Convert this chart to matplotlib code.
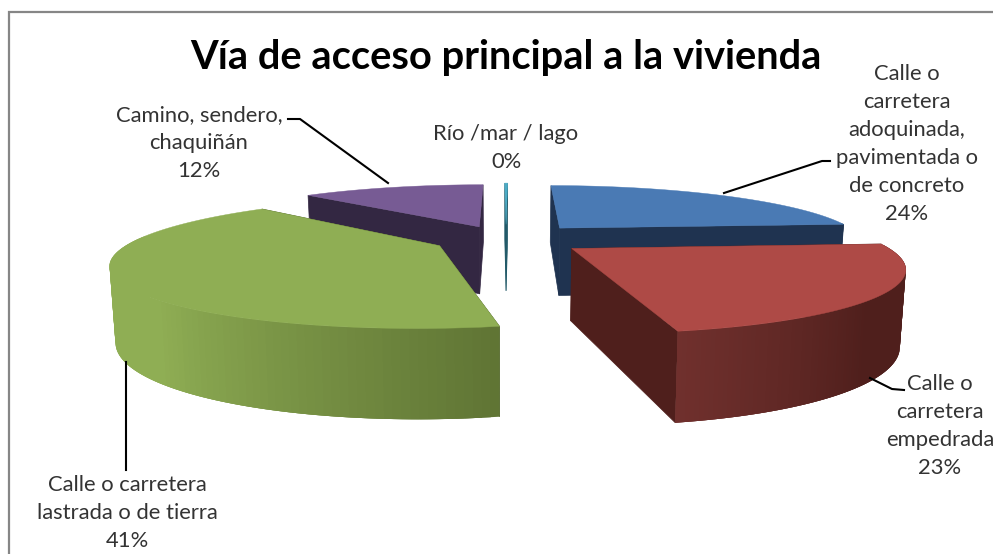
import numpy as np
import matplotlib
matplotlib.use('Agg')
import matplotlib.pyplot as plt
from matplotlib.colors import to_rgb

plt.rcParams['font.family'] = ['Lato', 'DejaVu Sans']

# values in chart order, clockwise from north
names = ['azul', 'rojo', 'verde', 'morado', 'rio']
values = [23.7, 23.0, 40.6, 12.4, 0.2]
tops = ['#4a7ab4', '#ae4a46', '#8fae54', '#775b94', '#4bacc6']
walls = ['#1f3350', '#4f1f1c', '#4d5f2a', '#332742', '#215968']
rim_near = ['#1f3350', '#70302d', '#5f7434', '#332742', '#215968']
rim_far = ['#1f3350', '#4f1f1c', '#8fae54', '#332742', '#215968']
explode = [0.27, 0.26, 0.24, 0.24, 0.27]
draw_order = [3, 4, 0, 2, 1]

labels = ['Calle o\ncarretera\nadoquinada,\npavimentada o\nde concreto\n24%',
          'Calle o\ncarretera\nempedrada\n23%',
          'Calle o carretera\nlastrada o de tierra\n41%',
          'Camino, sendero,\nchaquiñán\n12%',
          'Río /mar / lago\n0%']
label_xy = [(907, 144), (940, 426), (127, 513), (199, 143), (506, 148)]
leaders = [[(724, 193), (822, 161), (830, 161)],
           [(870, 378), (892, 389), (904, 390)],
           [(126, 362), (126, 470)],
           [(288, 119), (300, 119), (388, 183)]]

# perspective of the pie, in pixels
cx, cy = 506, 239
Rx, Ry = 305, 58
persp = 0.25
depth = 70
bottom_shrink = 0.985
start_angle = 0.4


def proj(U, V, low=False):
    s = 1 / (1 - persp * V)
    x = cx + Rx * U * s
    y = cy + Ry * V * s
    if low:
        x = cx + (x - cx) * bottom_shrink
        y = y + depth * s ** 0.8
    return x, y


def mix(c1, c2, t):
    c1, c2 = np.array(to_rgb(c1)), np.array(to_rgb(c2))
    return tuple(c1 + (c2 - c1) * np.clip(t, 0, 1))


def draw_slice(ax, a1, a2, expl, top, wall, near, far):
    mid = np.radians((a1 + a2) / 2)
    ex, ey = expl * np.sin(mid), -expl * np.cos(mid)
    ang = np.radians(np.linspace(a1, a2, 120))
    U = ex + np.sin(ang)
    V = ey - np.cos(ang)
    ax_, ay_ = proj(ex, ey)
    bx_, by_ = proj(ex, ey, low=True)
    # radial walls
    for i in [0, -1]:
        tx, ty = proj(U[i], V[i])
        lx, ly = proj(U[i], V[i], low=True)
        ax.fill([ax_, tx, lx, bx_], [ay_, ty, ly, by_], color=wall, lw=0.5, zorder=ax.z)
        ax.z += 0.01
    # outer rim, only the part looking at us, quads overlap so no seams show
    for i in range(len(ang) - 1):
        if -np.cos(ang[i]) < -0.1:
            continue
        deg = np.degrees(ang[i])
        t = (deg - 168) / 55 if deg >= 168 else (168 - deg) / 35
        c = mix(near, far, t)
        j = min(i + 3, len(ang) - 1)
        x1, y1 = proj(U[i], V[i])
        x2, y2 = proj(U[j], V[j])
        x3, y3 = proj(U[j], V[j], low=True)
        x4, y4 = proj(U[i], V[i], low=True)
        ax.fill([x1, x2, x3, x4], [y1, y2, y3, y4], color=c, lw=0, zorder=ax.z)
        ax.z += 0.0001
    ax.z += 0.01
    tx, ty = proj(U, V)
    ax.fill(np.r_[ax_, tx], np.r_[ay_, ty], color=top, lw=0.3, zorder=ax.z)
    ax.z += 0.01


fig = plt.figure(figsize=(9.93, 5.54), dpi=100)
ax = fig.add_axes([0, 0, 1, 1])
ax.set_xlim(0, 993)
ax.set_ylim(554, 0)
ax.axis('off')
ax.z = 2

# frame runs off the right and bottom of the picture
ax.plot([9, 9, 1000], [560, 12, 12], color='#868686', lw=1.6, zorder=1, solid_joinstyle='miter')

total = sum(values)
edges = start_angle + np.r_[0, np.cumsum(values)] / total * 360
for i in draw_order:
    draw_slice(ax, edges[i], edges[i + 1], explode[i], tops[i], walls[i], rim_near[i], rim_far[i])

for pts in leaders:
    xs, ys = zip(*pts)
    ax.plot(xs, ys, color='black', lw=1.5, zorder=5)

for txt, (x, y) in zip(labels, label_xy):
    ax.text(x, y, txt, ha='center', va='center', fontsize=15.8, color='#333333',
            linespacing=1.5, zorder=6)

ax.text(506, 58, 'Vía de acceso principal a la vivienda', ha='center', va='center',
        fontsize=28.7, fontweight='bold', color='black', zorder=6)

plt.savefig('out.png', dpi=100)
